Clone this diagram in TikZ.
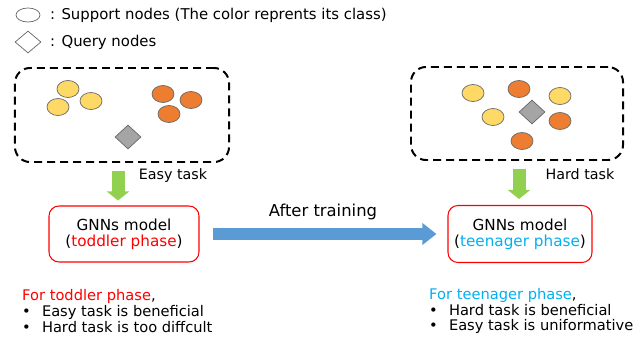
\documentclass[tikz,border=0pt]{standalone}
\usepackage{fontspec}
\setmainfont{DejaVu Sans}
\usetikzlibrary{shapes.geometric,arrows.meta}
\definecolor{nodeyellow}{HTML}{FFD966}
\definecolor{nodeorange}{HTML}{ED7D31}
\definecolor{querygray}{HTML}{A5A5A5}
\definecolor{taskgreen}{HTML}{92D050}
\definecolor{trainblue}{HTML}{5B9BD5}
\definecolor{phasered}{HTML}{FF0000}
\definecolor{phasecyan}{HTML}{00B0F0}
\newcommand{\notebullet}{\textbullet\hspace{9.5pt}}
\begin{document}
\begin{tikzpicture}[x=0.03cm,y=-0.03cm,
    support/.style={ellipse,draw=black!60,line width=0.6pt,inner sep=0pt,
      minimum width=0.66cm,minimum height=0.51cm},
    yellownode/.style={support,fill=nodeyellow},
    orangenode/.style={support,fill=nodeorange},
    query/.style={diamond,draw=black!60,fill=querygray,line width=0.6pt,
      inner sep=0pt,minimum width=0.78cm,minimum height=0.72cm},
    taskbox/.style={draw,line width=1.7pt,dash pattern=on 6.8pt off 4.3pt,
      rounded corners=0.45cm},
    modelbox/.style={draw=phasered,line width=0.9pt,rounded corners=0.3cm,
      align=center,font=\fontsize{13}{14}\selectfont},
    taskarrow/.style={draw=taskgreen,line width=0.39cm,
      -{Triangle[width=0.66cm,length=0.27cm]}},
    trainarrow/.style={draw=trainblue,line width=0.36cm,
      -{Triangle[width=0.63cm,length=0.42cm]}},
    note/.style={anchor=west,align=left,inner sep=0pt,
      font=\fontsize{12.5}{13.6}\selectfont}]
  \useasboundingbox (0,0) rectangle (642,339);
  % legend
  \node[support,fill=white,minimum width=0.72cm,minimum height=0.42cm] (legsupport) at (28,15) {};
  \node[anchor=west,inner sep=0pt,font=\fontsize{12.7}{15}\selectfont] (legsupporttext) at (50,15)
    {: Support nodes (The color reprents its class)};
  \node[query,fill=white,minimum height=0.66cm] (legquery) at (28,42) {};
  \node[anchor=west,inner sep=0pt,font=\fontsize{12.7}{15}\selectfont] (legquerytext) at (50,42)
    {: Query nodes};
  % easy task
  \node[taskbox,minimum width=6.42cm,minimum height=2.82cm] (task1) at (122,115) {};
  \node[yellownode] (l1) at (68,89) {};
  \node[yellownode] (l2) at (58,107) {};
  \node[yellownode] (l3) at (91,101) {};
  \node[orangenode] (l4) at (163,94) {};
  \node[orangenode] (l5) at (191,100) {};
  \node[orangenode] (l6) at (169,114) {};
  \node[query] (lq) at (128,137) {};
  \node[font=\fontsize{12.2}{14}\selectfont] (easylabel) at (173,176) {Easy task};
  % hard task
  \node[taskbox,minimum width=6.36cm,minimum height=2.79cm] (task2) at (517,113.5) {};
  \node[yellownode] (r1) at (473,93) {};
  \node[orangenode] (r2) at (519,89) {};
  \node[yellownode] (r3) at (560,96) {};
  \node[yellownode] (r4) at (493,117) {};
  \node[query] (rq) at (532,112) {};
  \node[orangenode] (r5) at (560,121) {};
  \node[orangenode] (r6) at (522,141) {};
  \node[font=\fontsize{12.2}{14}\selectfont] (hardlabel) at (580,174) {Hard task};
  % models
  \node[modelbox,minimum width=4.5cm,minimum height=1.68cm] (model1) at (124,234)
    {GNNs model\\(\textcolor{phasered}{toddler phase})};
  \node[modelbox,minimum width=4.32cm,minimum height=1.71cm] (model2) at (520,234)
    {GNNs model\\(\textcolor{phasecyan}{teenager phase})};
  \node[font=\fontsize{14}{16}\selectfont] (trainlabel) at (323,212) {After training};
  % arrows
  \draw[taskarrow,shorten <=0.24cm,shorten >=0.15cm]
    ([xshift=-0.12cm]task1.south) -- ([xshift=-0.12cm]task1.south |- model1.north);
  \draw[taskarrow,shorten <=0.24cm,shorten >=0.18cm]
    ([xshift=0.06cm]task2.south) -- ([xshift=0.06cm]task2.south |- model2.north);
  \draw[trainarrow,shorten <=0.39cm,shorten >=0.33cm] (model1.east) -- (model2.west);
  % notes
  \node[note] (toddlernote) at (22,311)
    {\textcolor{phasered}{For toddler phase},\\
     \notebullet Easy task is beneficial\\
     \notebullet Hard task is too diffcult};
  \node[note] (teennote) at (429,311)
    {\textcolor{phasecyan}{For teenager phase},\\
     \notebullet Hard task is beneficial\\
     \notebullet Easy task is uniformative};
\end{tikzpicture}
\end{document}
